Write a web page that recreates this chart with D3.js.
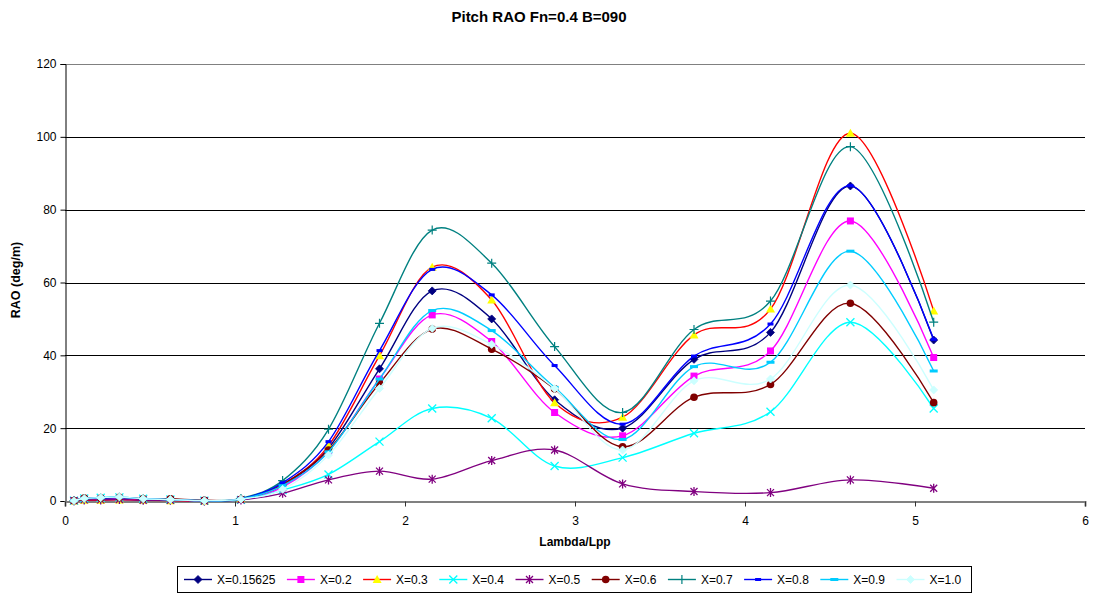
<!DOCTYPE html>
<html><head><meta charset="utf-8">
<script src="https://cdn.jsdelivr.net/npm/d3@7"></script>
<style>body{margin:0;background:#fff}svg{display:block;font-family:Arial,"Liberation Sans",sans-serif}</style>
</head><body>
<svg id="c" width="1094" height="602"></svg>
<script>
const lambda = [0.053,0.113,0.21,0.32,0.46,0.62,0.82,1.035,1.28,1.55,1.85,2.16,2.51,2.88,3.28,3.70,4.15,4.62,5.11];
const seriesNames = ["X=0.15625","X=0.2","X=0.3","X=0.4","X=0.5","X=0.6","X=0.7","X=0.8","X=0.9","X=1.0"];
const s015625 = [0.1,0.6,0.7,0.9,0.5,0.4,0.1,0.5, 4.3,14.5,36.3,57.7,50.0,27.8,20.0,38.9,46.3,86.5,44.2];
const s02     = [0.1,0.5,0.6,0.7,0.4,0.3,0.1,0.4, 3.8,13.6,33.5,51.1,43.8,24.3,17.9,34.3,41.2,76.9,39.4];
const s03     = [0.0,0.2,0.2,0.3,0.2,0.1,0.0,0.5, 4.5,15.2,39.9,64.2,55.2,27.0,23.0,45.6,52.7,101.0,52.2];
const s04     = [0.1,0.7,0.9,1.0,0.6,0.4,0.1,0.3, 3.0,7.3,16.3,25.4,22.7,9.6,11.9,18.6,24.5,49.1,25.4];
const s05     = [0.1,0.3,0.3,0.4,0.2,0.2,0.0,0.3, 2.1,5.8,8.2,6.0,11.1,14.0,4.7,2.6,2.3,5.8,3.5];
const s06     = [0.1,0.8,0.8,1.0,0.6,0.6,0.2,0.5, 4.6,14.0,32.3,47.2,41.7,30.8,14.9,28.5,32.0,54.3,27.0];
const s07     = [0.1,0.6,0.8,1.0,0.6,0.4,0.1,0.7, 5.6,19.7,48.8,74.4,65.3,42.4,24.3,47.1,54.9,97.3,49.1];
const s08     = [0.1,0.7,0.8,1.0,0.6,0.4,0.1,0.6, 5.0,16.3,41.3,63.6,56.6,37.2,21.1,39.8,48.6,86.6,44.4];
const s09     = [0.1,0.7,0.9,1.1,0.6,0.4,0.1,0.5, 4.2,13.5,33.5,52.3,46.8,31.2,16.9,36.9,38.1,68.6,35.7];
const s10     = [0.1,0.7,0.9,1.1,0.6,0.4,0.1,0.5, 3.2,12.6,30.9,47.4,43.0,30.9,14.0,33.0,33.5,59.3,30.5];
const xTicks = [0,1,2,3,4,5,6];
const yTicks = [0,20,40,60,80,100,120];

const allValues = [s015625,s02,s03,s04,s05,s06,s07,s08,s09,s10];
const lineColors = ["#000080","#FF00FF","#FF0000","#00FFFF","#800080","#800000","#008080","#0000FF","#00CCFF","#CCFFFF"];
const markerFill = ["#000080","#FF00FF","#FFFF00","none","none","#800000","none","#0000FF","#00CCFF","#CCFFFF"];
const markerType = ["diamond","square","triangle","x","star","circle","plus","dash","dash2","diamond"];

const svg = d3.select("#c");
const m = {l:65, r:1085, t:64, b:501};
const x = d3.scaleLinear().domain([0,6]).range([m.l, m.r]);
const y = d3.scaleLinear().domain([0,120]).range([m.b, m.t]);

// gridlines
svg.append("g").selectAll("line").data(yTicks.filter(d=>d>0)).join("line")
  .attr("x1",m.l).attr("x2",m.r).attr("y1",d=>Math.round(y(d))+0.5).attr("y2",d=>Math.round(y(d))+0.5)
  .attr("stroke",d=>d===120?"#808080":"#000").attr("stroke-width",1);

// y axis
const ya = svg.append("g").attr("transform",`translate(${m.l+0.5},0)`)
  .call(d3.axisLeft(y).tickValues(yTicks).tickFormat(d3.format("d")).tickSize(5).tickPadding(4));
ya.select(".domain").attr("stroke","#000");
ya.selectAll("text").attr("font-size",12).attr("fill","#000").attr("font-family","Arial, Liberation Sans, sans-serif");
// x axis
const xa = svg.append("g").attr("transform",`translate(0,${m.b+0.5})`)
  .call(d3.axisBottom(x).tickValues(xTicks).tickFormat(d3.format("d")).tickSize(5).tickPadding(10));
xa.select(".domain").attr("stroke","#808080").attr("stroke-width",2);
xa.selectAll(".tick line").attr("stroke","#333");
xa.selectAll("text").attr("font-size",12).attr("fill","#000").attr("font-family","Arial, Liberation Sans, sans-serif");

// titles
svg.append("text").attr("x",539).attr("y",22).attr("text-anchor","middle")
  .attr("font-size",15).attr("font-weight","bold").text("Pitch RAO Fn=0.4 B=090");
svg.append("text").attr("x",575).attr("y",546).attr("text-anchor","middle")
  .attr("font-size",12).attr("font-weight","bold").text("Lambda/Lpp");
svg.append("text").attr("transform","translate(20,280) rotate(-90)").attr("text-anchor","middle")
  .attr("font-size",12.5).attr("font-weight","bold").text("RAO (deg/m)");

function drawMarker(g, type, fill, stroke){
  switch(type){
    case "diamond": g.append("path").attr("d","M0,-4L4,0L0,4L-4,0Z").attr("fill",fill).attr("stroke",stroke).attr("stroke-width",0.8); break;
    case "square": g.append("rect").attr("x",-3.5).attr("y",-3.5).attr("width",7).attr("height",7).attr("fill",fill); break;
    case "triangle": g.append("path").attr("d","M0,-4.5L4.5,3.5L-4.5,3.5Z").attr("fill",fill); break;
    case "x": g.append("path").attr("d","M-4,-4L4,4M-4,4L4,-4").attr("stroke",stroke).attr("stroke-width",1.3).attr("fill","none"); break;
    case "star": g.append("path").attr("d","M-3.5,-3.5L3.5,3.5M-3.5,3.5L3.5,-3.5M0,-4.5L0,4.5").attr("stroke",stroke).attr("stroke-width",1.3).attr("fill","none"); break;
    case "circle": g.append("circle").attr("r",3.8).attr("fill",fill); break;
    case "plus": g.append("path").attr("d","M-4.5,0L4.5,0M0,-4.5L0,4.5").attr("stroke",stroke).attr("stroke-width",1.2).attr("fill","none"); break;
    case "dash": g.append("rect").attr("x",-3).attr("y",-1.5).attr("width",6).attr("height",3).attr("fill",fill); break;
    case "dash2": g.append("rect").attr("x",-4).attr("y",-1.5).attr("width",8).attr("height",3).attr("fill",fill); break;
  }
}

const line = d3.line().x((d,i)=>x(lambda[i])).y(d=>y(d)).curve(d3.curveCardinal.tension(0));

allValues.forEach((vals,si)=>{
  const g = svg.append("g");
  g.append("path").attr("d",line(vals)).attr("fill","none").attr("stroke",lineColors[si]).attr("stroke-width",1.4);
  vals.forEach((v,i)=>{
    const mg = g.append("g").attr("transform",`translate(${x(lambda[i])},${y(v)})`);
    drawMarker(mg, markerType[si], markerFill[si], lineColors[si]);
  });
});

// legend
const lg = svg.append("g");
lg.append("rect").attr("x",177.5).attr("y",566.5).attr("width",794).attr("height",26).attr("fill","#fff").attr("stroke","#000");
let lx = 184;
seriesNames.forEach((name,si)=>{
  const ly = 579.5;
  lg.append("line").attr("x1",lx).attr("x2",lx+28).attr("y1",ly).attr("y2",ly).attr("stroke",lineColors[si]).attr("stroke-width",1.4);
  const mg = lg.append("g").attr("transform",`translate(${lx+14},${ly})`);
  drawMarker(mg, markerType[si], markerFill[si], lineColors[si]);
  const t = lg.append("text").attr("x",lx+33).attr("y",ly+4.5).attr("font-size",12).text(name);
  lx = lx + 33 + t.node().getComputedTextLength() + 11.5;
});
</script>
</body></html>
